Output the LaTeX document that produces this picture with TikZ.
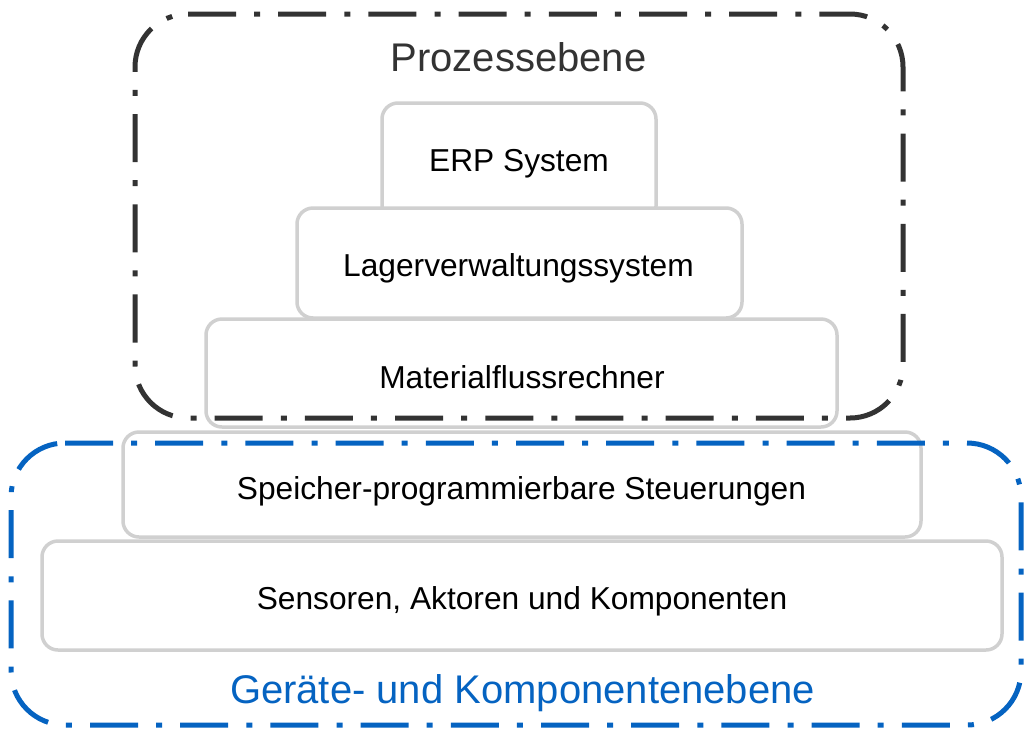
\documentclass[tikz,border=0pt]{standalone}
\usepackage{fontspec}
\setmainfont{Liberation Sans}
\usetikzlibrary{calc}
\definecolor{boxgray}{RGB}{208,208,208}
\definecolor{framedark}{RGB}{51,51,51}
\definecolor{frameblue}{RGB}{5,99,193}
\begin{document}
\begin{tikzpicture}[x=1pt,y=-1pt,
  layerbox/.style={draw=boxgray, line width=3.5pt, fill=white, rounded corners=16pt, inner sep=0pt},
  boxtext/.style={font=\fontsize{31.7}{38}\selectfont, text=black, anchor=base, inner sep=0pt},
  framestyle/.style={line width=5pt, dash pattern=on 48pt off 18.1pt on 6pt off 18.1pt},
  layertitle/.style={font=\fontsize{40}{48}\selectfont, anchor=base, inner sep=0pt}]
\useasboundingbox (0,0) rectangle (1025,729);
% layer boxes, drawn top to bottom so each covers the one above
\node[layerbox, minimum width=274pt, minimum height=119pt] (erp) at (519,162.5) {};
\node[layerbox, minimum width=445pt, minimum height=110pt] (lager) at (519.5,263) {};
\node[layerbox, minimum width=631pt, minimum height=108pt] (mfr) at (521.5,373) {};
\node[layerbox, minimum width=798pt, minimum height=105pt] (sps) at (522,484.5) {};
\node[layerbox, minimum width=960pt, minimum height=109pt] (sens) at (522,595.5) {};
% texts
\node[boxtext] (erpt) at (519,171.3) {ERP System};
\node[boxtext] (lagert) at (518.5,276.3) {Lagerverwaltungssystem};
\node[boxtext] (mfrt) at (522,388.3) {Materialflussrechner};
\node[boxtext] (spst) at (521.5,499.3) {Speicher-programmierbare Steuerungen};
\node[boxtext] (senst) at (522,609.3) {Sensoren, Aktoren und Komponenten};
% frames
\draw[framestyle, draw=framedark, rounded corners=53pt]
  (188,14) -- (903,14) -- (903,418) -- (135,418) -- (135,14) -- (188,14);
\draw[framestyle, draw=frameblue, rounded corners=54pt]
  (65,443) -- (1021,443) -- (1021,725) -- (11,725) -- (11,443) -- (65,443);
% frame titles
\node[layertitle, text=framedark] (proz) at (518.5,71.7) {Prozessebene};
\node[layertitle, text=frameblue] (geraete) at (522.5,703) {Geräte- und Komponentenebene};
\end{tikzpicture}
\end{document}
